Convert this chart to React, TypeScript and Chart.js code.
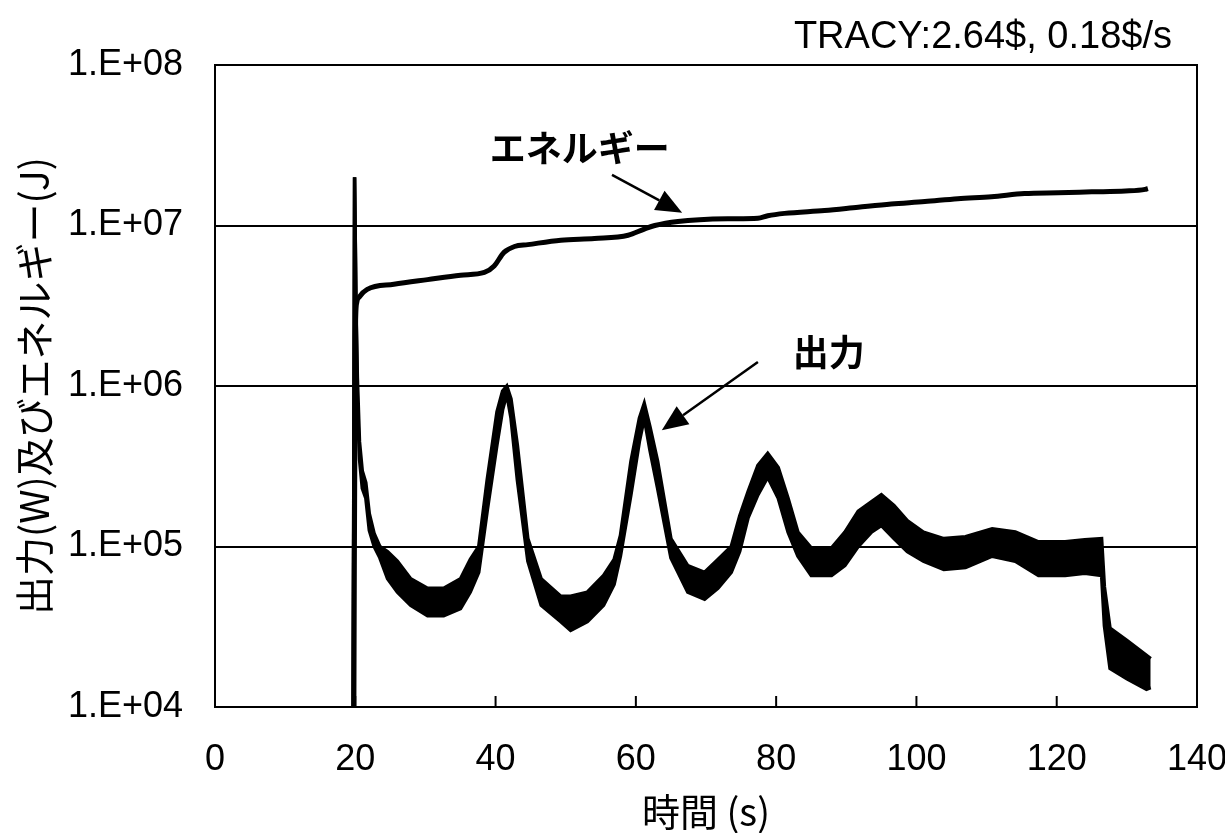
import React, { useEffect, useRef } from "react";
import { Chart, registerables } from "chart.js";
Chart.register(...registerables);

// ---- data ----
const xTicks = [0, 20, 40, 60, 80, 100, 120, 140];
const yTicks = [1e4, 1e5, 1e6, 1e7, 1e8];
const yTickLabels = ["1.E+04", "1.E+05", "1.E+06", "1.E+07", "1.E+08"];

const powerTime = [
  19.7, 19.9, 20.1, 20.3, 20.6, 21.0, 21.5, 22.0, 22.7, 23.5, 24.6, 26.0, 27.9, 30.3, 32.6, 35.0,
  36.4, 37.6, 38.8, 40.2, 41.0, 41.6, 42.2, 43.1, 44.6, 46.5, 49.3, 50.7, 53.1, 55.4, 56.9, 57.8,
  59.3, 60.5, 61.2, 62.0, 63.1, 65.0, 67.4, 69.8, 71.7, 73.6, 74.8, 76.0, 77.4, 78.8, 80.3, 81.7,
  83.1, 85.0, 87.9, 89.8, 91.7, 93.6, 95.0, 96.8, 98.7, 101.0, 103.9, 107.0, 110.8, 114.1, 117.4,
  121.2, 124.0, 126.4, 126.8, 127.6, 130.0, 132.8, 133.4,
];
const powerUpper = [
  1e4, 2.0e7, 3.2e6, 1.12e6, 4.5e5, 2.95e5, 2.5e5, 1.6e5, 1.2e5, 1.0e5, 9.3e4, 8.1e4, 6.3e4, 5.5e4, 5.5e4, 6.3e4,
  8.3e4, 1.0e5, 2.6e5, 6.9e5, 9.3e5, 1.0e6, 8.3e5, 4.3e5, 1.12e5, 6.3e4, 4.9e4, 4.9e4, 5.2e4, 6.6e4, 8.3e4, 1.17e5,
  3.4e5, 6.3e5, 7.8e5, 5.6e5, 3.4e5, 1.12e5, 7.6e4, 6.9e4, 8.3e4, 1.0e5, 1.55e5, 2.2e5, 3.2e5, 3.8e5, 3.1e5, 2.0e5,
  1.23e5, 9.8e4, 9.8e4, 1.23e5, 1.66e5, 1.9e5, 2.1e5, 1.8e5, 1.45e5, 1.23e5, 1.12e5, 1.15e5, 1.29e5, 1.23e5, 1.07e5,
  1.07e5, 1.1e5, 1.12e5, 5.6e4, 3.1e4, 2.6e4, 2.1e4, 2.0e4,
];
const powerLower = [
  1e4, 2.0e7, 3.2e6, 7.9e5, 3.5e5, 2.3e5, 2.0e5, 1.26e5, 1.0e5, 8.5e4, 6.3e4, 5.2e4, 4.3e4, 3.7e4, 3.7e4, 4.1e4,
  5.2e4, 6.9e4, 1.66e5, 4.3e5, 7.1e5, 8.9e5, 6.3e5, 2.6e5, 8.1e4, 4.3e4, 3.4e4, 3.0e4, 3.4e4, 4.3e4, 5.8e4, 8.7e4,
  2.1e5, 4.5e5, 6.3e5, 4.0e5, 2.3e5, 8.5e4, 5.2e4, 4.7e4, 5.5e4, 6.9e4, 9.3e4, 1.51e5, 2.1e5, 2.7e5, 2.0e5, 1.23e5,
  8.7e4, 6.6e4, 6.6e4, 7.6e4, 1.0e5, 1.23e5, 1.35e5, 1.12e5, 9.3e4, 8.1e4, 7.2e4, 7.4e4, 8.7e4, 8.1e4, 6.6e4,
  6.6e4, 6.8e4, 6.6e4, 3.2e4, 1.74e4, 1.5e4, 1.29e4, 1.32e4,
];

const energyTime = [
  19.8, 20.0, 20.2, 20.6, 21.7, 25.5, 30.3, 35.0, 38.4, 39.8, 41.2, 42.7, 44.6, 49.3, 54.1, 58.9,
  61.2, 62.7, 66.0, 73.1, 77.4, 78.8, 81.2, 86.9, 91.7, 96.4, 101.2, 105.9, 110.7, 115.4, 120.2,
  125.0, 129.8, 132.6, 133.0,
];
const energyValues = [
  1e4, 2.0e6, 3.3e6, 3.6e6, 4.0e6, 4.3e6, 4.6e6, 4.9e6, 5.1e6, 5.6e6, 6.8e6, 7.4e6, 7.6e6, 8.1e6, 8.3e6, 8.7e6,
  9.5e6, 1.0e7, 1.06e7, 1.10e7, 1.11e7, 1.15e7, 1.19e7, 1.24e7, 1.30e7, 1.36e7, 1.41e7, 1.47e7, 1.51e7, 1.58e7, 1.60e7,
  1.62e7, 1.64e7, 1.68e7, 1.70e7,
];

const yTitle = "出力(W)及びエネルギー(J)";
const xTitle = "時間 (s)";
const noteText = "TRACY:2.64$, 0.18$/s";
const annoLabels = ["エネルギー", "出力"];
const annoTextX = [52.0, 87.5];
const annoTextY = [3.04e7, 1.63e6];
const annoFromX = [56.6, 77.4];
const annoFromY = [2.07e7, 1.41e6];
const annoToX = [66.6, 63.7];
const annoToY = [1.2e7, 5.3e5];

const decorPlugin = {
  id: "decor",
  afterDraw(chart: any) {
    const { ctx, chartArea: a, scales } = chart;
    const xs = scales.x;
    const ys = scales.y;
    ctx.save();
    ctx.strokeStyle = "#000";
    ctx.fillStyle = "#000";
    ctx.lineWidth = 2;
    ctx.strokeRect(a.left, a.top, a.right - a.left, a.bottom - a.top);
    // inner tick marks on bottom axis
    xTicks.slice(1, -1).forEach((v) => {
      const px = xs.getPixelForValue(v);
      ctx.beginPath();
      ctx.moveTo(px, a.bottom);
      ctx.lineTo(px, a.bottom - 11);
      ctx.stroke();
    });
    // y title
    ctx.font = '39px "Noto Sans CJK JP"';
    ctx.textAlign = "center";
    ctx.textBaseline = "middle";
    ctx.save();
    ctx.translate(34, (a.top + a.bottom) / 2);
    ctx.rotate(-Math.PI / 2);
    ctx.fillText(yTitle, 0, 0);
    ctx.restore();
    // x title
    ctx.font = '38px "Noto Sans CJK JP"';
    ctx.fillText(xTitle, (a.left + a.right) / 2, 812);
    // note
    ctx.font = '38px "Liberation Sans"';
    ctx.textAlign = "right";
    ctx.textBaseline = "alphabetic";
    ctx.fillText(noteText, 1172, 48);
    // annotations
    ctx.font = 'bold 36px "Noto Sans CJK JP"';
    ctx.textAlign = "center";
    ctx.textBaseline = "middle";
    annoLabels.forEach((lbl, i) => {
      ctx.fillText(lbl, xs.getPixelForValue(annoTextX[i]), ys.getPixelForValue(annoTextY[i]));
      const x1 = xs.getPixelForValue(annoFromX[i]);
      const y1 = ys.getPixelForValue(annoFromY[i]);
      const x2 = xs.getPixelForValue(annoToX[i]);
      const y2 = ys.getPixelForValue(annoToY[i]);
      const ang = Math.atan2(y2 - y1, x2 - x1);
      const hl = 26;
      const hw = 11;
      const bx = x2 - hl * Math.cos(ang);
      const by = y2 - hl * Math.sin(ang);
      ctx.lineWidth = 2.5;
      ctx.beginPath();
      ctx.moveTo(x1, y1);
      ctx.lineTo(bx, by);
      ctx.stroke();
      ctx.beginPath();
      ctx.moveTo(x2, y2);
      ctx.lineTo(bx + hw * Math.sin(ang), by - hw * Math.cos(ang));
      ctx.lineTo(bx - hw * Math.sin(ang), by + hw * Math.cos(ang));
      ctx.closePath();
      ctx.fill();
    });
    ctx.restore();
  },
};

export default function App() {
  const ref = useRef<HTMLCanvasElement | null>(null);
  useEffect(() => {
    if (!ref.current) return;
    const upper = powerTime.map((t, i) => ({ x: t, y: powerUpper[i] }));
    const lower = powerTime.map((t, i) => ({ x: t, y: powerLower[i] }));
    const energy = energyTime.map((t, i) => ({ x: t, y: energyValues[i] }));
    const chart = new Chart(ref.current, {
      type: "line",
      data: {
        datasets: [
          { label: "出力上", data: upper, borderColor: "#000", borderWidth: 3.5, pointRadius: 0, fill: false },
          { label: "出力下", data: lower, borderColor: "#000", borderWidth: 3.5, pointRadius: 0, fill: "-1", backgroundColor: "#000" },
          { label: "エネルギー", data: energy, borderColor: "#000", borderWidth: 5, pointRadius: 0, fill: false, cubicInterpolationMode: "monotone" },
        ],
      },
      options: {
        responsive: false,
        animation: false,
        devicePixelRatio: 1,
        layout: { autoPadding: false, padding: { top: 65, right: 28, left: 0, bottom: 0 } },
        plugins: { legend: { display: false }, tooltip: { enabled: false } },
        scales: {
          x: {
            type: "linear",
            min: 0,
            max: 140,
            afterBuildTicks: (s: any) => { s.ticks = xTicks.map((v) => ({ value: v })); },
            afterFit: (s: any) => { s.height = 126; s.paddingLeft = 0; s.paddingRight = 0; },
            grid: { display: false, drawTicks: false },
            border: { display: true, color: "#000", width: 2 },
            ticks: { color: "#000", font: { family: "Liberation Sans", size: 36 }, padding: 31, autoSkip: false, maxRotation: 0 },
          },
          y: {
            type: "logarithmic",
            min: 1e4,
            max: 1e8,
            afterBuildTicks: (s: any) => { s.ticks = yTicks.map((v) => ({ value: v })); },
            afterFit: (s: any) => { s.width = 215; s.paddingTop = 0; s.paddingBottom = 0; },
            grid: { color: "#000", lineWidth: 2, drawTicks: false },
            border: { display: true, color: "#000", width: 2 },
            ticks: {
              color: "#000",
              font: { family: "Liberation Sans", size: 36 },
              padding: 32,
              autoSkip: false,
              callback: (v: any) => {
                const i = yTicks.findIndex((t) => Math.abs(Math.log10(t) - Math.log10(v)) < 1e-6);
                return i >= 0 ? yTickLabels[i] : "";
              },
            },
          },
        },
      },
      plugins: [decorPlugin],
    } as any);
    return () => chart.destroy();
  }, []);
  return (
    <div style={{ position: "absolute", left: 0, top: 0, width: 1225, height: 833, background: "#fff" }}>
      <canvas ref={ref} width={1225} height={833} />
    </div>
  );
}
